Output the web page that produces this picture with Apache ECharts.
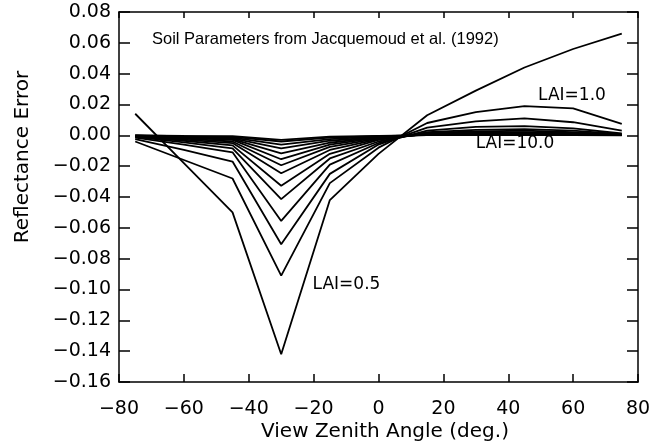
<!DOCTYPE html>
<html>
<head>
<meta charset="utf-8">
<script src="https://cdn.jsdelivr.net/npm/echarts@6/dist/echarts.min.js"></script>
<style>
html,body{margin:0;padding:0;background:#fff;}
#chart{width:656px;height:443px;}
</style>
</head>
<body>
<div id="chart"></div>
<script>
// View zenith angles (deg.)
var angles = [-75, -60, -45, -30, -15, 0, 15, 30, 45, 60, 75];
// Tick values
var xTicks = [-80, -60, -40, -20, 0, 20, 40, 60, 80];
var yTicks = [-0.16, -0.14, -0.12, -0.10, -0.08, -0.06, -0.04, -0.02, 0.00, 0.02, 0.04, 0.06, 0.08];
// Reflectance error per LAI
var lai05  = [0.014, -0.018, -0.050, -0.142, -0.042, -0.012, 0.013, 0.029, 0.044, 0.056, 0.066];
var lai10  = [-0.004, -0.016, -0.028, -0.091, -0.031, -0.008, 0.008, 0.015, 0.019, 0.0175, 0.0075];
var lai15  = [-0.0025, -0.0095, -0.017, -0.0707, -0.025, -0.006, 0.005, 0.009, 0.011, 0.0085, 0.003];
var lai20  = [-0.0015, -0.006, -0.011, -0.0555, -0.019, -0.005, 0.003, 0.0055, 0.006, 0.0045, 0.0012];
var lai25  = [-0.001, -0.0045, -0.0085, -0.0414, -0.015, -0.004, 0.002, 0.0035, 0.004, 0.003, 0.0008];
var lai30  = [-0.0008, -0.0035, -0.0065, -0.0327, -0.012, -0.003, 0.0015, 0.0025, 0.003, 0.002, 0.0005];
var lai35  = [-0.0006, -0.0028, -0.005, -0.0246, -0.0095, -0.0025, 0.001, 0.002, 0.002, 0.0015, 0.0004];
var lai40  = [-0.0005, -0.0022, -0.004, -0.0194, -0.0075, -0.002, 0.0008, 0.0015, 0.0015, 0.001, 0.0003];
var lai45  = [-0.0004, -0.0017, -0.003, -0.0155, -0.006, -0.0015, 0.0006, 0.001, 0.001, 0.0008, 0.0002];
var lai50  = [-0.0003, -0.0014, -0.0025, -0.0117, -0.0048, -0.0012, 0.0005, 0.0008, 0.0008, 0.0006, 0.0002];
var lai60  = [-0.0002, -0.001, -0.002, -0.0085, -0.0035, -0.001, 0.0004, 0.0006, 0.0006, 0.0004, 0.0001];
var lai70  = [-0.0002, -0.0008, -0.0015, -0.006, -0.0025, -0.0007, 0.0003, 0.0004, 0.0004, 0.0003, 0.0001];
var lai80  = [-0.0001, -0.0005, -0.001, -0.004, -0.0015, -0.0005, 0.0002, 0.0003, 0.0003, 0.0002, 0.0001];
var lai100 = [0, -0.0003, -0.0005, -0.003, -0.0008, -0.0003, 0.0001, 0.0002, 0.0002, 0.0001, 0];

var curves = [lai05, lai10, lai15, lai20, lai25, lai30, lai35, lai40, lai45, lai50, lai60, lai70, lai80, lai100];
var curveNames = ['LAI=0.5','LAI=1.0','LAI=1.5','LAI=2.0','LAI=2.5','LAI=3.0','LAI=3.5','LAI=4.0','LAI=4.5','LAI=5.0','LAI=6.0','LAI=7.0','LAI=8.0','LAI=10.0'];

var FONT = 'DejaVu Sans';
function fmtY(v){ var s = Math.abs(v).toFixed(2); return (v < -1e-9 ? '\u2212' : '') + s; }
function fmtX(v){ return (v < 0 ? '\u2212' : '') + Math.abs(v); }

var series = curves.map(function(c, i){
  return {
    type: 'line', name: curveNames[i], xAxisIndex: 0, yAxisIndex: 0,
    data: angles.map(function(a, j){ return [a, c[j]]; }),
    symbol: 'none', silent: true, animation: false,
    lineStyle: { color: '#000', width: 1.8 }
  };
});

var chart = echarts.init(document.getElementById('chart'), null, {renderer: 'canvas'});
var axisLineStyle = { color: '#000', width: 1.5 };
chart.setOption({
  backgroundColor: '#fff',
  animation: false,
  grid: { left: 119, right: 18, top: 12, bottom: 61, containLabel: false, outerBoundsMode: 'none' },
  xAxis: [{
    type: 'value', position: 'bottom',
    min: xTicks[0], max: xTicks[xTicks.length-1], interval: xTicks[1]-xTicks[0],
    axisLine: { show: true, onZero: false, lineStyle: axisLineStyle },
    axisTick: { show: true, inside: true, length: 8, lineStyle: axisLineStyle },
    axisLabel: { formatter: fmtX, color: '#000', fontFamily: FONT, fontSize: 19, margin: 18 },
    splitLine: { show: false }
  }, {
    type: 'value', position: 'top',
    min: xTicks[0], max: xTicks[xTicks.length-1], interval: xTicks[1]-xTicks[0],
    axisLine: { show: true, onZero: false, lineStyle: axisLineStyle },
    axisTick: { show: true, inside: true, length: 6, lineStyle: axisLineStyle },
    axisLabel: { show: false }, splitLine: { show: false }
  }],
  yAxis: [{
    type: 'value', position: 'left',
    min: yTicks[0], max: yTicks[yTicks.length-1], interval: 0.02,
    axisLine: { show: true, onZero: false, lineStyle: axisLineStyle },
    axisTick: { show: true, inside: true, length: 11, lineStyle: axisLineStyle },
    axisLabel: { formatter: fmtY, color: '#000', fontFamily: FONT, fontSize: 19, margin: 8 },
    splitLine: { show: false }
  }, {
    type: 'value', position: 'right',
    min: yTicks[0], max: yTicks[yTicks.length-1], interval: 0.02,
    axisLine: { show: true, onZero: false, lineStyle: axisLineStyle },
    axisTick: { show: true, inside: true, length: 11, lineStyle: axisLineStyle },
    axisLabel: { show: false }, splitLine: { show: false }
  }],
  graphic: [
    { type: 'text', left: 152, top: 31, style: { text: 'Soil Parameters from Jacquemoud et al. (1992)', fill: '#000', font: '16.5px "Liberation Sans", sans-serif' } },
    { type: 'text', x: 572, y: 96, style: { text: 'LAI=1.0', fill: '#000', font: '17px "DejaVu Sans", sans-serif', align: 'center', verticalAlign: 'middle' } },
    { type: 'text', x: 515, y: 143.5, style: { text: 'LAI=10.0', fill: '#000', font: '17px "DejaVu Sans", sans-serif', align: 'center', verticalAlign: 'middle' } },
    { type: 'text', x: 346.5, y: 284.5, style: { text: 'LAI=0.5', fill: '#000', font: '17px "DejaVu Sans", sans-serif', align: 'center', verticalAlign: 'middle' } },
    { type: 'text', x: 385, y: 432, style: { text: 'View Zenith Angle (deg.)', fill: '#000', font: '20px "DejaVu Sans", sans-serif', align: 'center', verticalAlign: 'middle' } },
    { type: 'text', x: 23, y: 157, rotation: Math.PI/2, style: { text: 'Reflectance Error', fill: '#000', font: '20px "DejaVu Sans", sans-serif', align: 'center', verticalAlign: 'middle' } }
  ],
  series: series
});
</script>
</body>
</html>
